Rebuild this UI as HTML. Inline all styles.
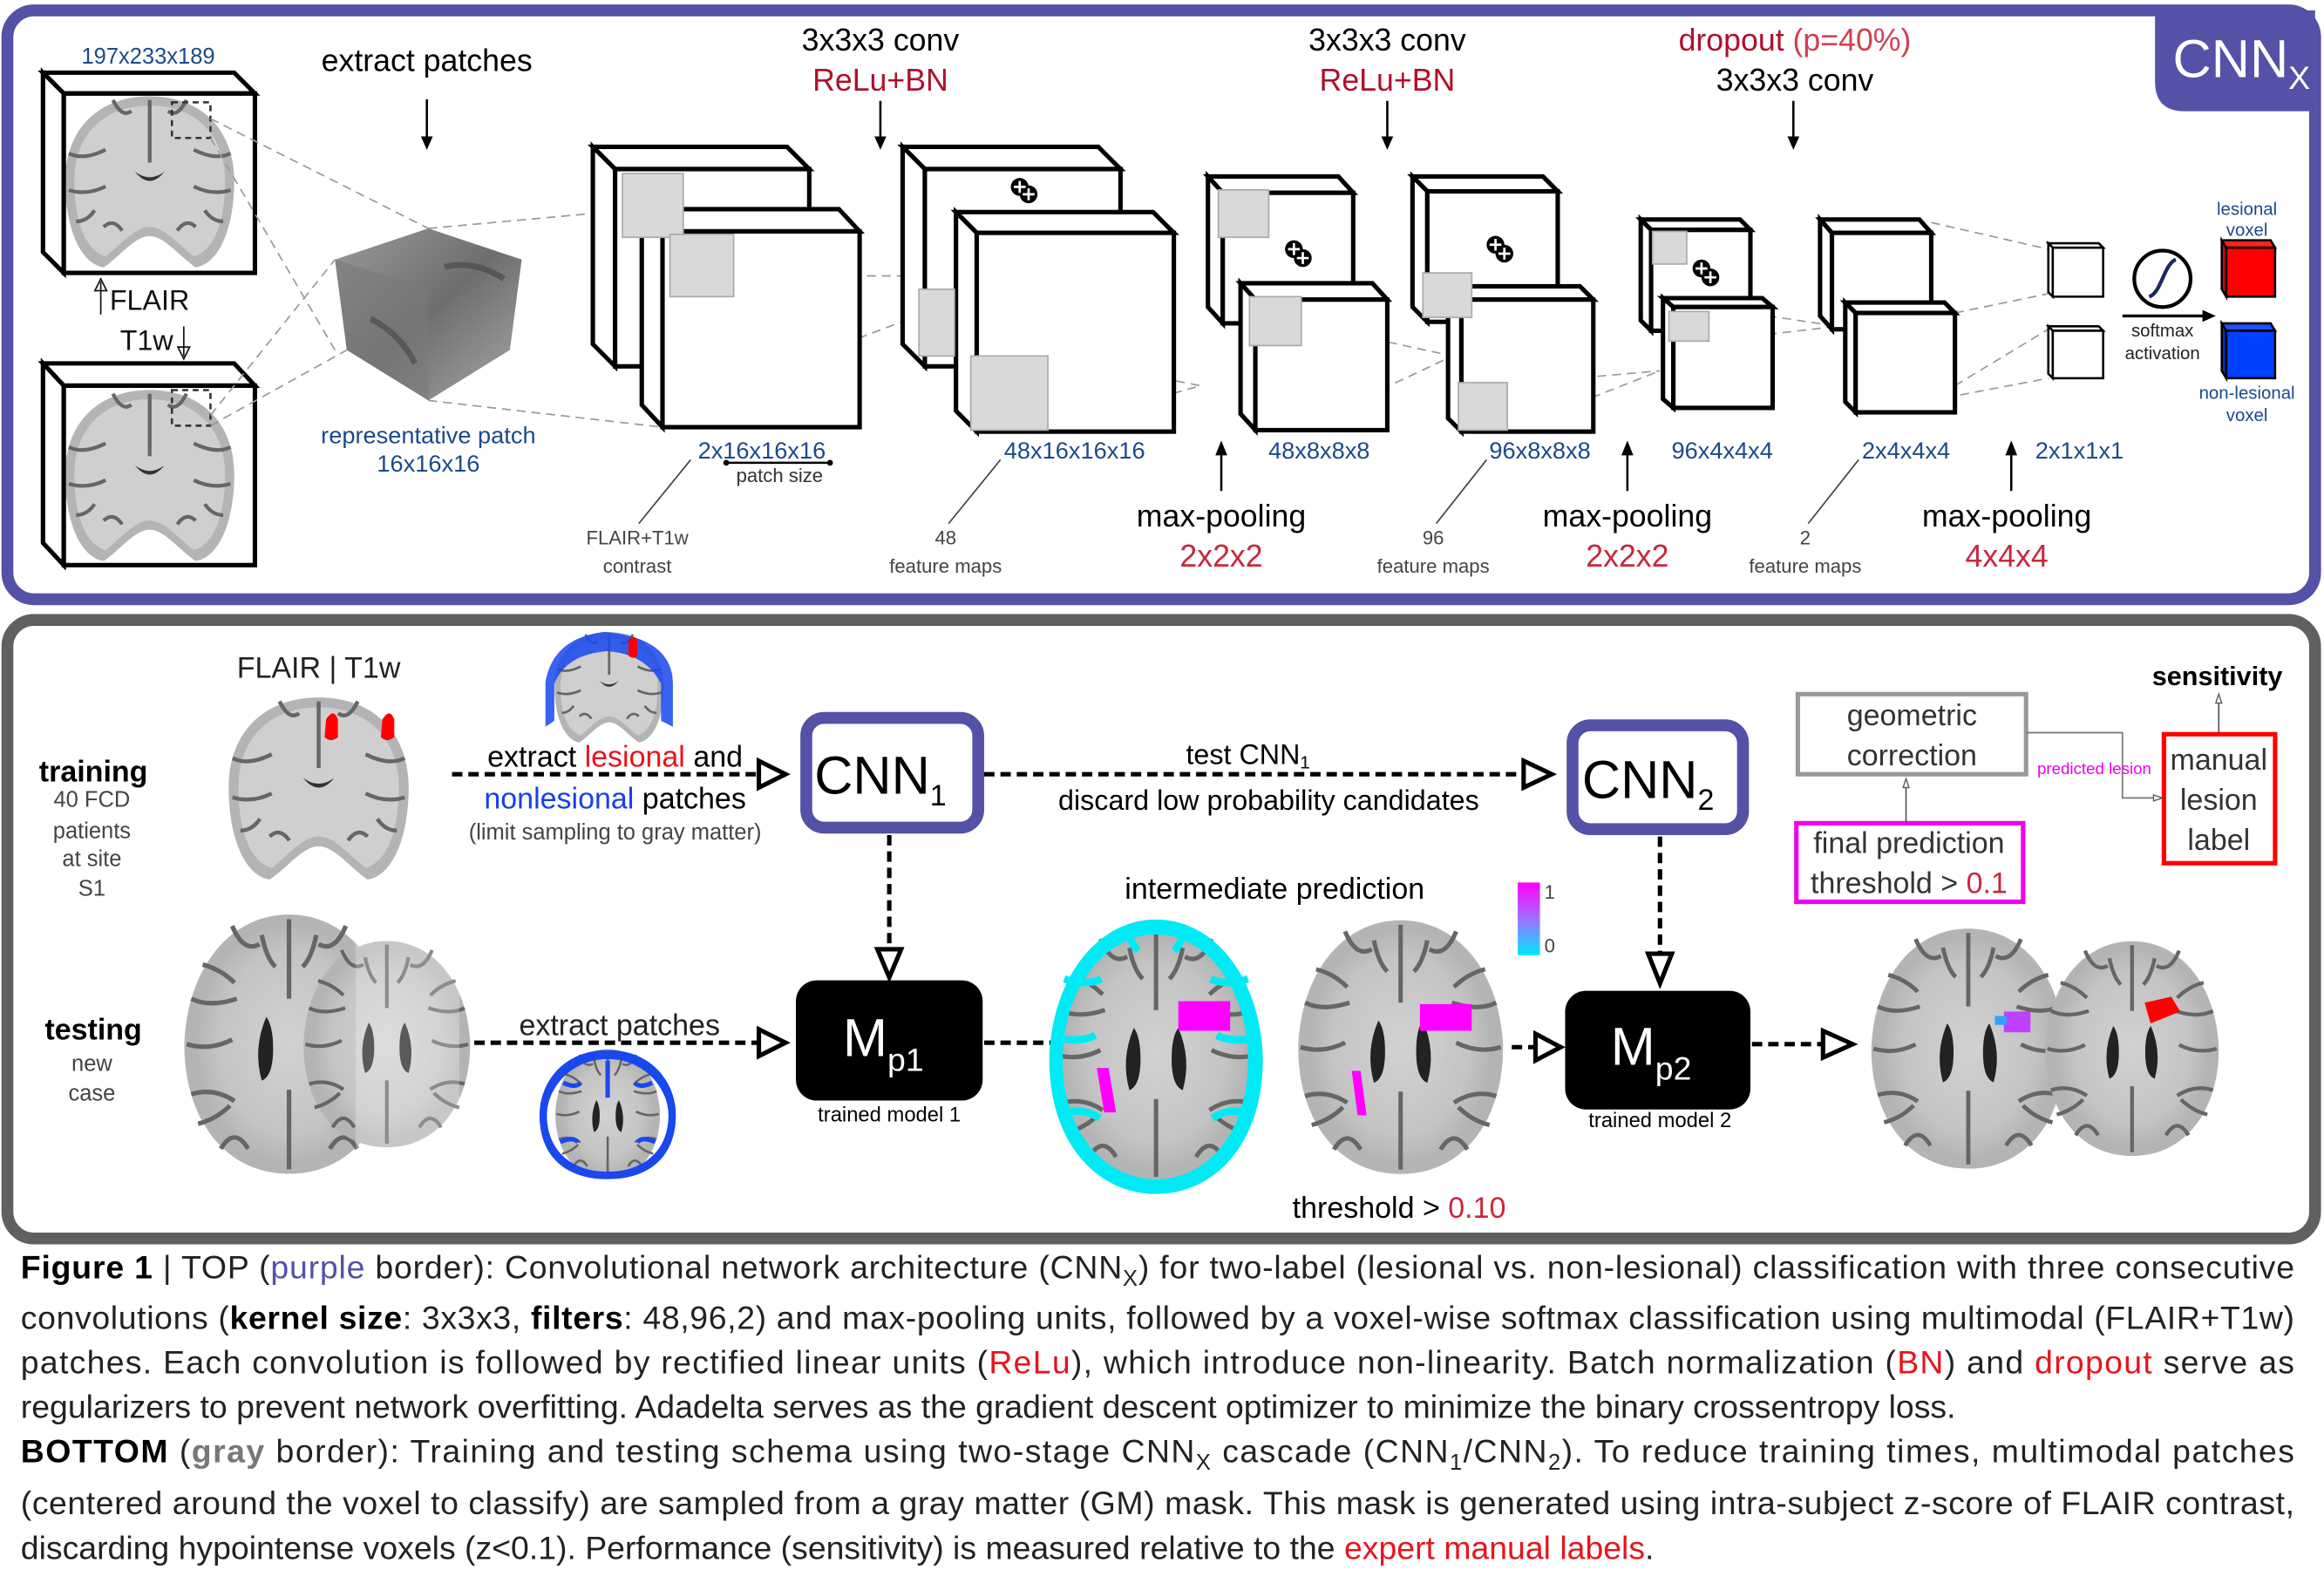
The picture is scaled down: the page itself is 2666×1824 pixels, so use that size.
<!DOCTYPE html>
<html><head><meta charset="utf-8"><style>
html,body{margin:0;padding:0;background:#fff;}
svg{display:block;}
text{font-family:"Liberation Sans",sans-serif;}
</style></head><body>
<svg width="2666" height="1824" viewBox="0 0 1568 1072" preserveAspectRatio="none" xmlns="http://www.w3.org/2000/svg">
<defs>
<radialGradient id="bg" cx="50%" cy="50%" r="55%"><stop offset="0" stop-color="#d2d2d2"/><stop offset="0.7" stop-color="#c4c4c4"/><stop offset="1" stop-color="#b0b0b0"/></radialGradient>
<linearGradient id="cb" x1="0" y1="0" x2="0" y2="1"><stop offset="0" stop-color="#ff00ff"/><stop offset="0.5" stop-color="#a070ff"/><stop offset="1" stop-color="#00e8ff"/></linearGradient>
<linearGradient id="pc" x1="0" y1="0" x2="1" y2="1"><stop offset="0" stop-color="#9a9a9a"/><stop offset="0.5" stop-color="#6e6e6e"/><stop offset="1" stop-color="#a8a8a8"/></linearGradient>
<symbol id="ax" viewBox="0 0 100 120">
<path d="M50 3 C25 3 6 25 4 58 C3 90 20 117 50 117 C80 117 97 90 96 58 C94 25 75 3 50 3Z" fill="#b4b4b4"/>
<path d="M50 8 C28 8 11 28 10 58 C9 88 24 111 50 111 C76 111 91 88 90 58 C89 28 72 8 50 8Z" fill="url(#bg)"/>
<path d="M50 5 L50 40 M50 80 L50 115 M7 40 q8 4 20 0 M5 60 q10 3 20 -2 M7 82 q10 -3 19 3 M93 40 q-8 4 -20 0 M95 60 q-10 3 -20 -2 M93 82 q-10 -3 -19 3 M25 8 q5 12 12 8 M75 8 q-5 12 -12 8 M20 106 q6 -10 12 0 M80 106 q-6 -10 -12 0 M12 25 q8 2 14 8 M88 25 q-8 2 -14 8 M10 95 q8 -2 14 -8 M90 95 q-8 -2 -14 -8 M38 12 q2 10 6 14 M62 12 q-2 10 -6 14" stroke="#666" stroke-width="2" fill="none"/>
<path d="M40 48 q-6 14 -2 28 q5 -2 5 -14 q0 -10 -3 -14Z M60 48 q6 14 2 28 q-5 -2 -5 -14 q0 -10 3 -14Z" fill="#222"/>
</symbol>
<symbol id="co" viewBox="0 0 100 100">
<path d="M50 4 C22 4 4 22 4 50 C4 75 12 95 25 97 C35 90 42 80 50 80 C58 80 65 90 75 97 C88 95 96 75 96 50 C96 22 78 4 50 4Z" fill="#b4b4b4"/>
<path d="M50 9 C25 9 9 25 9 50 C9 72 15 88 26 91 C35 84 42 75 50 75 C58 75 65 84 74 91 C85 88 91 72 91 50 C91 25 75 9 50 9Z" fill="#cfcfcf"/>
<path d="M50 6 L50 40 M6 35 q8 4 20 -2 M6 55 q10 3 20 -2 M94 35 q-8 4 -20 -2 M94 55 q-10 3 -20 -2 M30 6 q5 10 10 6 M70 6 q-5 10 -10 6 M25 75 q5 -5 10 2 M75 75 q-5 -5 -10 2 M10 72 q6 0 10 -6 M90 72 q-6 0 -10 -6" stroke="#666" stroke-width="2" fill="none"/>
<path d="M42 45 q8 6 16 0 q-8 10 -16 0Z" fill="#333"/>
</symbol>
</defs>

<!-- TOP PANEL -->
<rect x="5" y="7" width="1557" height="397" rx="18" fill="#fff" stroke="#5352a6" stroke-width="8"/>
<path d="M1454 7 L1562 7 L1562 75 L1474 75 Q1454 75 1454 55Z" fill="#5352a6"/>
<text x="1466" y="52" font-size="36" fill="#fff">CNN<tspan font-size="22" dy="8">X</tspan></text>

<g stroke="#000" stroke-width="3" fill="#fff">
<polygon points="29,49 158,49 172,63 43,63"/><polygon points="29,49 43,63 43,184 29,170"/>
<polygon points="29,245 158,245 172,260 43,260"/><polygon points="29,245 43,260 43,381 29,366"/>
</g>
<use href="#co" x="30" y="60" width="142" height="124"/>
<use href="#co" x="30" y="258" width="142" height="124"/>
<rect x="43" y="63" width="129" height="121" fill="none" stroke="#000" stroke-width="3"/>
<rect x="43" y="260" width="129" height="121" fill="none" stroke="#000" stroke-width="3"/>
<rect x="116" y="69" width="26" height="24" fill="none" stroke="#333" stroke-width="1.5" stroke-dasharray="4,3"/>
<rect x="116" y="263" width="26" height="24" fill="none" stroke="#333" stroke-width="1.5" stroke-dasharray="4,3"/>
<text x="100" y="43" font-size="15" fill="#1a4a8a" text-anchor="middle">197x233x189</text>
<text x="74" y="209" font-size="19" fill="#111">FLAIR</text>
<path d="M68 212 L68 190 M64 196 L68 188 L72 196Z" stroke="#111" fill="#fff"/>
<text x="81" y="236" font-size="19" fill="#111">T1w</text>
<path d="M124 220 L124 240 M120 234 L124 242 L128 234Z" stroke="#111" fill="#fff"/>

<text x="288" y="48" font-size="21" text-anchor="middle">extract patches</text>
<path d="M288 67 L288 95" stroke="#000" stroke-width="1.5"/><path d="M284 92 L288 101 L292 92Z"/>

<g stroke="#999" stroke-width="1" stroke-dasharray="6,4" fill="none">
<path d="M142 80 L289 154 M142 93 L226 236 M142 287 L234 236 M142 280 L226 175"/>
<path d="M289 154 L432 141 M289 270 L447 288"/>
<path d="M495 186 L690 186 M495 260 L690 186 M705 240 L810 260 M705 290 L810 260"/>
<path d="M878 218 L980 240 M878 288 L980 240 M1018 259 L1120 250 M1018 290 L1120 250"/>
<path d="M1153 207 L1240 220 M1153 230 L1240 220 M1303 150 L1382 168 M1303 270 L1382 255 M1319 211 L1382 198 M1319 260 L1382 222"/>
</g>

<polygon points="289,154 352,175 344,236 289,270 234,236 226,175" fill="url(#pc)"/>
<polygon points="226,175 289,195 289,270 234,236" fill="#7a7a7a" opacity="0.6"/>
<path d="M250 215 q20 10 30 30 M300 180 q20 -5 40 8" stroke="#444" stroke-width="4" fill="none" opacity="0.6"/>
<text x="289" y="299" font-size="16" fill="#1a4a8a" text-anchor="middle">representative patch</text>
<text x="289" y="318" font-size="16" fill="#1a4a8a" text-anchor="middle">16x16x16</text>

<g stroke="#000" stroke-width="3" fill="#fff" stroke-linejoin="miter">
<polygon points="400,99 531,99 546,114 415,114"/><polygon points="400,99 415,114 415,247 400,232"/><rect x="415" y="114" width="131" height="133"/>
<polygon points="433,141 566,141 580,156 447,156"/><polygon points="433,141 447,156 447,288 433,273"/><rect x="447" y="156" width="133" height="132"/>
<polygon points="609,99 741,99 756,114 624,114"/><polygon points="609,99 624,114 624,247 609,232"/><rect x="624" y="114" width="132" height="133"/>
<polygon points="645,143 778,143 792,157 659,157"/><polygon points="645,143 659,157 659,291 645,277"/><rect x="659" y="157" width="133" height="134"/>
<polygon points="815,119 903,119 913,130 825,130"/><polygon points="815,119 825,130 825,218 815,207"/><rect x="825" y="130" width="88" height="88"/>
<polygon points="837,191 926,191 936,202 847,202"/><polygon points="837,191 847,202 847,290 837,279"/><rect x="847" y="202" width="89" height="88"/>
<polygon points="953,119 1041,119 1051,129 963,129"/><polygon points="953,119 963,129 963,217 953,207"/><rect x="963" y="129" width="88" height="88"/>
<polygon points="977,193 1066,193 1075,202 986,202"/><polygon points="977,193 986,202 986,291 977,282"/><rect x="986" y="202" width="89" height="89"/>
<polygon points="1107,148 1174,148 1181,155 1114,155"/><polygon points="1107,148 1114,155 1114,223 1107,216"/><rect x="1114" y="155" width="67" height="68"/>
<polygon points="1122,201 1189,201 1196,207 1129,207"/><polygon points="1122,201 1129,207 1129,275 1122,269"/><rect x="1129" y="207" width="67" height="68"/>
<polygon points="1228,148 1295,148 1303,157 1236,157"/><polygon points="1228,148 1236,157 1236,222 1228,213"/><rect x="1236" y="157" width="67" height="65"/>
<polygon points="1245,204 1312,204 1319,211 1252,211"/><polygon points="1245,204 1252,211 1252,278 1245,271"/><rect x="1252" y="211" width="67" height="67"/>
</g>
<g fill="#d9d9d9" stroke="#aaa" stroke-width="1">
<rect x="420" y="117" width="41" height="43"/><rect x="452" y="158" width="43" height="42"/>
<rect x="620" y="195" width="24" height="45"/><rect x="655" y="240" width="52" height="50"/>
<rect x="822" y="128" width="34" height="32"/><rect x="843" y="200" width="35" height="33"/>
<rect x="960" y="184" width="33" height="30"/><rect x="984" y="258" width="33" height="32"/>
<rect x="1115" y="156" width="23" height="22"/><rect x="1126" y="210" width="27" height="20"/>
</g>
<g>
<circle cx="688" cy="126" r="6"/><circle cx="694" cy="131" r="6"/>
<circle cx="873" cy="168" r="6"/><circle cx="879" cy="174" r="6"/>
<circle cx="1009" cy="165" r="6"/><circle cx="1015" cy="171" r="6"/>
<circle cx="1148" cy="181" r="6"/><circle cx="1154" cy="187" r="6"/>
</g>
<g stroke="#fff" stroke-width="1.6">
<path d="M684 126h8M688 122v8M690 131h8M694 127v8"/>
<path d="M869 168h8M873 164v8M875 174h8M879 170v8"/>
<path d="M1005 165h8M1009 161v8M1011 171h8M1015 167v8"/>
<path d="M1144 181h8M1148 177v8M1150 187h8M1154 183v8"/>
</g>
<g stroke="#000" stroke-width="1.5" fill="#fff">
<polygon points="1382,164 1416,164 1419,167 1385,167"/><polygon points="1382,164 1385,167 1385,200 1382,197"/><rect x="1385" y="167" width="34" height="33"/>
<polygon points="1382,220 1416,220 1419,223 1385,223"/><polygon points="1382,220 1385,223 1385,255 1382,252"/><rect x="1385" y="223" width="34" height="32"/>
</g>
<g stroke="#000" stroke-width="1.5">
<polygon points="1499,162 1532,162 1535,167 1502,167" fill="#ff2020"/><polygon points="1499,162 1502,167 1502,200 1499,195" fill="#d00"/><rect x="1502" y="167" width="33" height="33" fill="#ff0000"/>
<polygon points="1499,218 1532,218 1535,223 1502,223" fill="#2050ff"/><polygon points="1499,218 1502,223 1502,255 1499,250" fill="#0030c0"/><rect x="1502" y="223" width="33" height="32" fill="#0040ff"/>
</g>
<ellipse cx="1459" cy="188" rx="19" ry="19" fill="none" stroke="#000" stroke-width="2.5"/>
<path d="M1450 200 C1458 198 1460 178 1468 175" stroke="#1a2a5a" stroke-width="2.5" fill="none"/>
<path d="M1432 213 L1488 213" stroke="#000" stroke-width="2"/><path d="M1486 209 L1495 213 L1486 217Z"/>
<text x="1459" y="227" font-size="12" text-anchor="middle" fill="#222">softmax</text>
<text x="1459" y="242" font-size="12" text-anchor="middle" fill="#222">activation</text>
<text x="1516" y="145" font-size="12" text-anchor="middle" fill="#1a4a8a">lesional</text>
<text x="1516" y="159" font-size="12" text-anchor="middle" fill="#1a4a8a">voxel</text>
<text x="1516" y="269" font-size="12" text-anchor="middle" fill="#1a4a8a">non-lesional</text>
<text x="1516" y="284" font-size="12" text-anchor="middle" fill="#1a4a8a">voxel</text>

<g font-size="21" text-anchor="middle">
<text x="594" y="34">3x3x3 conv</text><text x="594" y="61" fill="#b0102a">ReLu+BN</text>
<text x="936" y="34">3x3x3 conv</text><text x="936" y="61" fill="#b0102a">ReLu+BN</text>
<text x="1211" y="34" fill="#b0102a">dropout <tspan fill="#d04050">(p=40%)</tspan></text><text x="1211" y="61">3x3x3 conv</text>
</g>
<g stroke="#000" stroke-width="1.5"><path d="M594 68V95M936 68V95M1210 68V95"/></g>
<path d="M590 92L594 101L598 92ZM932 92L936 101L940 92ZM1206 92L1210 101L1214 92Z"/>

<g font-size="16" fill="#1a4a8a" text-anchor="middle">
<text x="514" y="309">2x16x16x16</text><text x="725" y="309">48x16x16x16</text>
<text x="890" y="309">48x8x8x8</text><text x="1039" y="309">96x8x8x8</text>
<text x="1162" y="309">96x4x4x4</text><text x="1286" y="309">2x4x4x4</text><text x="1403" y="309">2x1x1x1</text>
</g>
<path d="M490 312 L560 312" stroke="#000" stroke-width="1.5"/><circle cx="490" cy="312" r="2"/><circle cx="560" cy="312" r="2"/>
<text x="526" y="325" font-size="13" text-anchor="middle" fill="#333">patch size</text>
<g stroke="#444" stroke-width="1" fill="none"><path d="M466 310L431 353M675 310L640 353M1003 310L969 353M1254 310L1220 353"/></g>
<g font-size="13" fill="#444" text-anchor="middle">
<text x="430" y="367">FLAIR+T1w</text><text x="430" y="386">contrast</text>
<text x="638" y="367">48</text><text x="638" y="386">feature maps</text>
<text x="967" y="367">96</text><text x="967" y="386">feature maps</text>
<text x="1218" y="367">2</text><text x="1218" y="386">feature maps</text>
</g>
<g font-size="21" text-anchor="middle">
<text x="824" y="355">max-pooling</text><text x="824" y="382" fill="#c8283c">2x2x2</text>
<text x="1098" y="355">max-pooling</text><text x="1098" y="382" fill="#c8283c">2x2x2</text>
<text x="1354" y="355">max-pooling</text><text x="1354" y="382" fill="#c8283c">4x4x4</text>
</g>
<g stroke="#000" stroke-width="1.5"><path d="M824 331V304M1098 331V304M1357 331V304"/></g>
<path d="M820 307L824 297L828 307ZM1094 307L1098 297L1102 307ZM1353 307L1357 297L1361 307Z"/>

<!-- BOTTOM PANEL -->
<rect x="5" y="418" width="1557" height="417" rx="18" fill="#fff" stroke="#606060" stroke-width="8"/>

<text x="215" y="457" font-size="20" text-anchor="middle" fill="#222">FLAIR | T1w</text>
<use href="#co" x="124" y="465" width="182" height="132"/>
<path d="M220 485 q5 -8 8 0 l0 12 q-5 4 -9 0Z M258 485 q5 -8 8 0 l0 12 q-5 4 -9 0Z" fill="#f00"/>
<text x="63" y="527" font-size="20" font-weight="bold" text-anchor="middle">training</text>
<g font-size="15" fill="#444" text-anchor="middle"><text x="62" y="544">40 FCD</text><text x="62" y="565">patients</text><text x="62" y="584">at site</text><text x="62" y="604">S1</text></g>
<use href="#co" x="366" y="423" width="90" height="80"/>
<path d="M368 460 q5 -30 40 -34 q45 4 46 34 l0 30 l-8 -4 l0 -25 q-10 -20 -36 -22 q-28 2 -36 22 l0 25 l-6 4Z" fill="#1848ee" opacity="0.85"/>
<path d="M424 432 q4 -5 6 0 l0 10 q-3 3 -6 0Z" fill="#f00"/>
<g font-size="20" text-anchor="middle"><text x="415" y="517">extract <tspan fill="#e8141c">lesional</tspan> and</text><text x="415" y="545"><tspan fill="#1840e8">nonlesional</tspan> patches</text></g>
<text x="415" y="566" font-size="15" text-anchor="middle" fill="#444">(limit sampling to gray matter)</text>

<g stroke="#000" stroke-width="3" stroke-dasharray="7,4" fill="none">
<path d="M305 522H512M664 522H1028M600 563V640M1120 564V643M320 703H512M664 703H712M1020 706H1036M1182 704H1230"/>
</g>
<g fill="#fff" stroke="#000" stroke-width="3">
<path d="M512 513L530 522L512 531Z"/><path d="M1028 513L1047 522L1028 531Z"/>
<path d="M592 640L600 659L608 640Z"/><path d="M1112 643L1120 663L1128 643Z"/>
<path d="M512 694L530 703L512 712Z"/><path d="M1036 697L1053 706L1036 715Z"/><path d="M1230 695L1250 704L1230 713Z"/>
</g>

<rect x="544" y="484" width="116" height="74" rx="12" fill="#fff" stroke="#5352a6" stroke-width="8"/>
<text x="594" y="535" font-size="36" text-anchor="middle">CNN<tspan font-size="20" dy="8">1</tspan></text>
<rect x="1061" y="489" width="115" height="70" rx="12" fill="#fff" stroke="#5352a6" stroke-width="8"/>
<text x="1112" y="538" font-size="36" text-anchor="middle">CNN<tspan font-size="20" dy="8">2</tspan></text>
<text x="842" y="515" font-size="19" text-anchor="middle">test CNN<tspan font-size="12" dy="3">1</tspan></text>
<text x="856" y="546" font-size="19" text-anchor="middle">discard low probability candidates</text>

<rect x="537" y="661" width="126" height="81" rx="14" fill="#000"/>
<text x="596" y="712" font-size="36" fill="#fff" text-anchor="middle">M<tspan font-size="22" dy="10">p1</tspan></text>
<text x="600" y="756" font-size="14" text-anchor="middle">trained model 1</text>
<rect x="1056" y="668" width="125" height="80" rx="14" fill="#000"/>
<text x="1114" y="718" font-size="36" fill="#fff" text-anchor="middle">M<tspan font-size="22" dy="10">p2</tspan></text>
<text x="1120" y="760" font-size="14" text-anchor="middle">trained model 2</text>

<text x="63" y="701" font-size="20" font-weight="bold" text-anchor="middle">testing</text>
<g font-size="15" fill="#444" text-anchor="middle"><text x="62" y="722">new</text><text x="62" y="742">case</text></g>
<use href="#ax" x="110" y="612" width="170" height="184"/>
<use href="#ax" x="200" y="612" width="122" height="184"/>
<rect x="240" y="625" width="70" height="160" fill="#fff" opacity="0.25"/>
<text x="418" y="698" font-size="20" text-anchor="middle" fill="#222">extract patches</text>
<use href="#ax" x="362" y="705" width="96" height="92"/>
<path d="M410 708 C380 708 364 730 364 752 C364 778 380 795 410 795 C440 795 456 778 456 752 C456 730 440 708 410 708Z M410 714 C386 714 369 733 369 752 C369 776 386 790 410 790 C434 790 451 776 451 752 C451 733 434 714 410 714Z" fill="#1848ee" fill-rule="evenodd"/>
<path d="M380 730 q8 4 12 0 M440 730 q-8 4 -12 0 M378 770 q8 -4 12 0 M442 770 q-8 -4 -12 0 M410 715 v25" stroke="#1848ee" stroke-width="3" fill="none"/>

<text x="860" y="606" font-size="20" text-anchor="middle">intermediate prediction</text>
<use href="#ax" x="705" y="616" width="150" height="190"/>
<path d="M780 620 C740 620 710 660 708 712 C707 770 740 805 780 805 C820 805 853 770 852 712 C850 660 820 620 780 620Z M780 630 C746 630 718 666 717 712 C716 764 746 795 780 795 C814 795 843 764 842 712 C841 666 814 630 780 630Z" fill="#00eaf5" fill-rule="evenodd"/>
<path d="M718 660 q15 5 25 0 M715 700 q15 3 24 -2 M720 750 q12 -3 22 4 M842 660 q-15 5 -25 0 M845 700 q-15 3 -24 -2 M840 750 q-12 -3 -22 4 M760 625 q3 12 8 16 M800 625 q-3 12 -8 16" stroke="#00eaf5" stroke-width="5" fill="none"/>
<path d="M795 675 h35 v20 h-35Z" fill="#ff00ff"/><path d="M740 720 l8 0 l5 30 l-8 0Z" fill="#ff00ff"/>
<use href="#ax" x="870" y="616" width="150" height="180"/>
<path d="M958 677 h35 v18 h-35Z" fill="#ff00ff"/><path d="M912 722 l6 0 l4 30 l-6 0Z" fill="#ff00ff"/>
<rect x="1024" y="595" width="15" height="49" fill="url(#cb)"/>
<text x="1042" y="606" font-size="13" fill="#444">1</text><text x="1042" y="642" font-size="13" fill="#444">0</text>
<text x="944" y="821" font-size="20" text-anchor="middle">threshold &gt; <tspan fill="#c8283c">0.10</tspan></text>

<use href="#ax" x="1257" y="616" width="142" height="182"/>
<use href="#ax" x="1375" y="616" width="127" height="182"/>
<path d="M1352 682 h18 v14 h-18Z" fill="#c040ff"/><path d="M1346 685 h8 v6 h-8Z" fill="#30a0ff"/>
<path d="M1447 676 l18 -4 l6 10 l-20 8Z" fill="#f00"/>

<rect x="1213" y="468" width="154" height="54" fill="#fff" stroke="#999" stroke-width="3"/>
<text x="1290" y="489" font-size="20" text-anchor="middle" fill="#333">geometric</text>
<text x="1290" y="516" font-size="20" text-anchor="middle" fill="#333">correction</text>
<rect x="1212" y="555" width="153" height="53" fill="#fff" stroke="#ee00ee" stroke-width="3"/>
<text x="1288" y="575" font-size="20" text-anchor="middle" fill="#333">final prediction</text>
<text x="1288" y="602" font-size="20" text-anchor="middle" fill="#333">threshold &gt; <tspan fill="#c8283c">0.1</tspan></text>
<path d="M1286 554V527" stroke="#555" stroke-width="1"/><path d="M1284 531L1286 525L1288 531Z" fill="#fff" stroke="#555" stroke-width="0.8"/>
<rect x="1460" y="495" width="75" height="87" fill="#fff" stroke="#f00" stroke-width="3"/>
<g font-size="20" text-anchor="middle" fill="#333"><text x="1497" y="519">manual</text><text x="1497" y="546">lesion</text><text x="1497" y="573">label</text></g>
<text x="1496" y="462" font-size="18" font-weight="bold" text-anchor="middle">sensitivity</text>
<path d="M1497 494V470" stroke="#555" stroke-width="1"/><path d="M1495 474L1497 468L1499 474Z" fill="#fff" stroke="#555" stroke-width="0.8"/>
<path d="M1367 494H1432V538H1455" stroke="#777" stroke-width="1" fill="none"/><path d="M1453 536L1459 538L1453 540Z" fill="#fff" stroke="#555" stroke-width="0.8"/>
<text x="1413" y="522" font-size="11" text-anchor="middle" fill="#ee00ee">predicted lesion</text>

<!-- CAPTION -->
<g font-size="22" fill="#222">
<text x="14" y="862" textLength="1534" lengthAdjust="spacing"><tspan font-weight="bold" fill="#000">Figure 1</tspan> | TOP (<tspan fill="#5352a6">purple</tspan> border): Convolutional network architecture (CNN<tspan font-size="15" dy="5">X</tspan><tspan dy="-5">) for two-label (lesional vs. non-lesional) classification with three consecutive</tspan></text>
<text x="14" y="896" textLength="1534" lengthAdjust="spacing">convolutions (<tspan font-weight="bold" fill="#000">kernel size</tspan>: 3x3x3, <tspan font-weight="bold" fill="#000">filters</tspan>: 48,96,2) and max-pooling units, followed by a voxel-wise softmax classification using multimodal (FLAIR+T1w)</text>
<text x="14" y="926" textLength="1534" lengthAdjust="spacing">patches. Each convolution is followed by rectified linear units (<tspan fill="#e8141c">ReLu</tspan>), which introduce non-linearity. Batch normalization (<tspan fill="#e8141c">BN</tspan>) and <tspan fill="#e8141c">dropout</tspan> serve as</text>
<text x="14" y="956">regularizers to prevent network overfitting. Adadelta serves as the gradient descent optimizer to minimize the binary crossentropy loss.</text>
<text x="14" y="986" textLength="1534" lengthAdjust="spacing"><tspan font-weight="bold" fill="#000">BOTTOM</tspan> (<tspan font-weight="bold" fill="#777">gray</tspan> border): Training and testing schema using two-stage CNN<tspan font-size="15" dy="5">X</tspan><tspan dy="-5"> cascade (CNN</tspan><tspan font-size="15" dy="5">1</tspan><tspan dy="-5">/CNN</tspan><tspan font-size="15" dy="5">2</tspan><tspan dy="-5">). To reduce training times, multimodal patches</tspan></text>
<text x="14" y="1021" textLength="1534" lengthAdjust="spacing">(centered around the voxel to classify) are sampled from a gray matter (GM) mask. This mask is generated using intra-subject z-score of FLAIR contrast,</text>
<text x="14" y="1051">discarding hypointense voxels (z&lt;0.1). Performance (sensitivity) is measured relative to the <tspan fill="#e8141c">expert manual labels</tspan>.</text>
</g>
</svg>
</body></html>
